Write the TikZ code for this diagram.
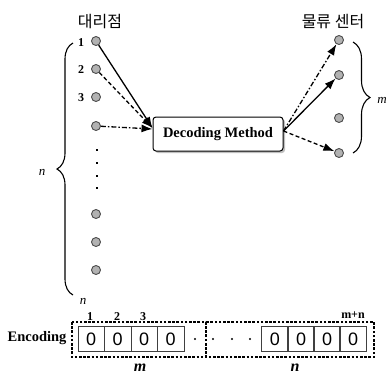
\documentclass[tikz,border=0pt]{standalone}
\usepackage{fontspec}
\setmainfont{Liberation Serif}
\newfontfamily\kor{Noto Sans CJK KR}
\newfontfamily\sansf{Liberation Sans}
\usetikzlibrary{arrows.meta,decorations.pathreplacing,shadows}
\begin{document}
\begin{tikzpicture}[x=1pt,y=-1pt,
  dot/.style={circle,draw=black!70,fill=black!30,line width=0.9pt,minimum size=9pt,inner sep=0pt},
  arr/.style={line width=1.3pt,-{Latex[length=11pt,width=8pt]}},
  dashline/.style={arr,dash pattern=on 4pt off 2.5pt},
  dashdotline/.style={arr,dash pattern=on 5pt off 2pt on 1.5pt off 2pt},
  cell/.style={draw=black!75,line width=0.8pt,minimum width=26.5pt,minimum height=25pt,inner sep=0pt,font=\sansf\fontsize{18}{18}\selectfont},
  dotbox/.style={line width=2.8pt,dash pattern=on 2.6pt off 1.6pt},
  numlbl/.style={font=\bfseries\fontsize{12}{12}\selectfont,inner sep=0pt},
  smalllbl/.style={font=\bfseries\fontsize{12}{12}\selectfont,inner sep=0pt},
  ital/.style={font=\itshape\fontsize{13}{13}\selectfont,inner sep=0pt},
  bital/.style={font=\bfseries\itshape\fontsize{16}{16}\selectfont,inner sep=0pt},
  head/.style={font=\kor\fontsize{16}{16}\selectfont,inner sep=0pt},
  sq/.style={fill=black,minimum size=2.6pt,inner sep=0pt},
  tiny/.style={circle,fill=black,minimum size=2.4pt,inner sep=0pt},
  bracestyle/.style={decorate,line width=1.1pt}
]
\useasboundingbox (0,0) rectangle (390,376);

% headings
\node[head] (h1) at (100,22) {대리점};
\node[head] (h2) at (333,22) {물류 센터};

% left dots
\node[dot] (a1) at (96,41) {};
\node[dot] (a2) at (96,69) {};
\node[dot] (a3) at (96,97) {};
\node[dot] (a4) at (96,126) {};
\node[dot] (a5) at (96,214) {};
\node[dot] (a6) at (96,242) {};
\node[dot] (a7) at (96,270) {};
\node[numlbl] (l1) at (81,43) {1};
\node[numlbl] (l2) at (81,70) {2};
\node[numlbl] (l3) at (81,98) {3};
\node[sq] (v1) at (97,150) {};
\node[sq] (v2) at (97,163) {};
\node[sq] (v3) at (97,176) {};
\node[sq] (v4) at (97,188) {};

% right dots
\node[dot] (b1) at (339,40) {};
\node[dot] (b2) at (339,75) {};
\node[dot] (b3) at (339,118) {};
\node[dot] (b4) at (339,153) {};

% decoding box
\node[draw,line width=1pt,rounded corners=3pt,fill=white,minimum width=130pt,minimum height=34pt,
      drop shadow={shadow xshift=2pt,shadow yshift=-2pt,fill=black!50},
      font=\bfseries\fontsize{14.5}{14.5}\selectfont] (dm) at (218,134) {Decoding Method};

% arrows in
\draw[arr] (a1) -- ([yshift=6pt]dm.west);
\draw[dashline] (a2) -- ([yshift=6pt]dm.west);
\draw[dashdotline] (a4) -- ([yshift=5pt]dm.west);
% arrows out
\draw[dashdotline] ([yshift=3pt]dm.east) -- (b1);
\draw[arr] ([yshift=3pt]dm.east) -- (b2);
\draw[dashline] ([yshift=3pt]dm.east) -- (b4);

% braces
\coordinate (lbB) at (73,295);
\coordinate (lbT) at (73,43);
\draw[bracestyle,decoration={brace,amplitude=16pt}] (lbB) -- (lbT);
\node[ital] (nl) at (42,172) {n};
\node[ital] (nb) at (83,301) {n};
\coordinate (rbT) at (353,42);
\coordinate (rbB) at (353,153);
\draw[bracestyle,decoration={brace,amplitude=17pt}] (rbT) -- (rbB);
\node[ital] (mr) at (382,100) {m};

% encoding
\node[font=\bfseries\fontsize{14.5}{14.5}\selectfont,inner sep=0pt] (enc) at (37,338) {Encoding};
\draw[dotbox] (72,322) rectangle (206,357);
\draw[dotbox] (206,322) rectangle (374,357);
\node[cell] (c1) at (91.25,339) {0};
\node[cell] (c2) at (117.75,339) {0};
\node[cell] (c3) at (144.25,339) {0};
\node[cell] (c4) at (170.75,339) {0};
\node[cell] (d1) at (275,339) {0};
\node[cell] (d2) at (301,339) {0};
\node[cell] (d3) at (327,339) {0};
\node[cell] (d4) at (353,339) {0};
\node[tiny] (t1) at (195,339) {};
\node[tiny] (t2) at (213,339) {};
\node[tiny] (t3) at (232,339) {};
\node[tiny] (t4) at (250,339) {};
\node[smalllbl] (k1) at (90,317) {1};
\node[smalllbl] (k2) at (117,317) {2};
\node[smalllbl] (k3) at (143,317) {3};
\node[smalllbl] (kmn) at (353,315) {m+n};
\node[bital] (bm) at (140,368) {m};
\node[bital] (bn) at (295,368) {n};
\end{tikzpicture}
\end{document}
